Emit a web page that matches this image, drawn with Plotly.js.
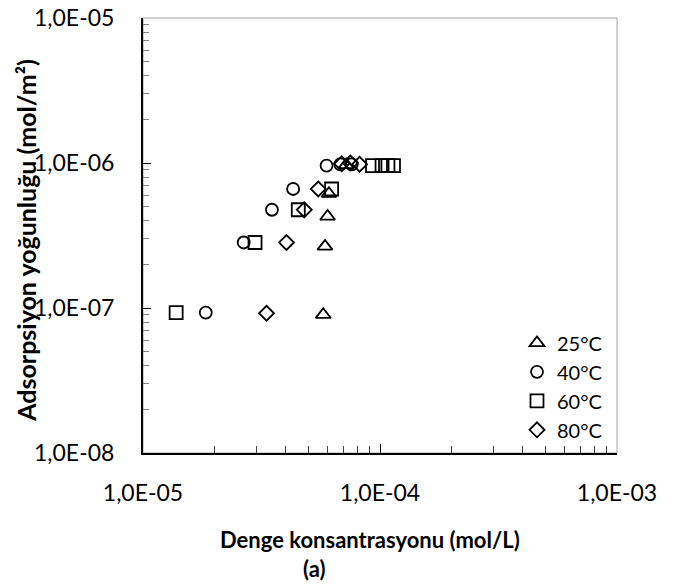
<!DOCTYPE html>
<html>
<head>
<meta charset="utf-8">
<script src="https://cdn.plot.ly/plotly-3.0.1.min.js"></script>
<style>html,body{margin:0;padding:0;background:#fff;}#chart{width:675px;height:586px;}</style>
</head>
<body>
<div id="chart"></div>
<script>
// Data
const seriesNames = ['25°C', '40°C', '60°C', '80°C'];
const x25 = [5.76e-5, 5.86e-5, 6.01e-5, 6.09e-5, 7.2e-5];
const y25 = [9.0e-8, 2.66e-7, 4.28e-7, 6.14e-7, 9.7e-7];
const x40 = [1.84e-5, 2.66e-5, 3.50e-5, 4.30e-5, 5.95e-5, 6.8e-5, 7.6e-5];
const y40 = [9.3e-8, 2.83e-7, 4.76e-7, 6.62e-7, 9.6e-7, 9.8e-7, 9.8e-7];
const x60 = [1.38e-5, 2.97e-5, 4.52e-5, 6.25e-5, 9.3e-5, 1.02e-4, 1.08e-4, 1.14e-4];
const y60 = [9.3e-8, 2.83e-7, 4.76e-7, 6.62e-7, 9.6e-7, 9.6e-7, 9.6e-7, 9.6e-7];
const x80 = [3.32e-5, 4.03e-5, 4.79e-5, 5.49e-5, 6.9e-5, 7.5e-5, 8.2e-5];
const y80 = [9.2e-8, 2.83e-7, 4.76e-7, 6.62e-7, 9.9e-7, 1.0e-6, 9.8e-7];

const xTickVals = [1e-5, 1e-4, 1e-3];
const xTickText = ['1,0E-05', '1,0E-04', '1,0E-03'];
const yTickVals = [1e-8, 1e-7, 1e-6, 1e-5];
const yTickText = ['1,0E-08', '1,0E-07', '1,0E-06', '1,0E-05'];

const xTitle = 'Denge konsantrasyonu (mol/L)';
const yTitle = 'Adsorpsiyon yoğunluğu (mol/m²)';
const subLabel = '(a)';

function minorVals(decades) {
  const v = [];
  for (const d of decades) for (let k = 2; k <= 9; k++) v.push(k * d);
  return v;
}

const FONT = 'Lato, "Open Sans", sans-serif';
const symbols = ['triangle-up-open', 'circle-open', 'square-open', 'diamond-open'];
const sizes = [13, 12, 13, 11.5];
const xs = [x25, x40, x60, x80];
const ys = [y25, y40, y60, y80];

const traces = seriesNames.map((n, i) => ({
  x: xs[i], y: ys[i], name: n, type: 'scatter', mode: 'markers',
  marker: {symbol: symbols[i], size: sizes[i], color: '#000', line: {color: '#000', width: 1.8}}
}));

const layout = {
  width: 675, height: 586,
  margin: {l: 143, r: 58, t: 18, b: 133},
  paper_bgcolor: '#fff', plot_bgcolor: 'rgba(0,0,0,0)',
  font: {family: FONT, color: '#000', size: 20},
  showlegend: true,
  legend: {x: 0.789, xanchor: 'left', y: 0.298, yanchor: 'top', bgcolor: 'rgba(0,0,0,0)',
           font: {family: FONT, size: 20, color: '#000'}, itemwidth: 30, traceorder: 'normal'},
  xaxis: {type: 'log', range: [-5, -3], tickmode: 'array', tickvals: xTickVals, ticktext: xTickText,
          ticks: 'inside', ticklen: 9, tickcolor: '#000', tickwidth: 1,
          showline: true, linecolor: '#000', linewidth: 2, showgrid: false, zeroline: false,
          tickfont: {family: FONT, size: 23}, ticklabelstandoff: 18,
          minor: {tickmode: 'array', tickvals: minorVals([1e-5, 1e-4]), ticks: 'inside', ticklen: 7, tickcolor: '#404040', tickwidth: 1, showgrid: false}},
  yaxis: {type: 'log', range: [-8, -5], tickmode: 'array', tickvals: yTickVals, ticktext: yTickText,
          ticks: 'inside', ticklen: 8, tickcolor: '#000', tickwidth: 1,
          showline: true, linecolor: '#000', linewidth: 2, showgrid: false, zeroline: false,
          tickfont: {family: FONT, size: 23}, ticklabelstandoff: 22,
          minor: {tickmode: 'array', tickvals: minorVals([1e-8, 1e-7, 1e-6]), ticks: 'inside', ticklen: 6, tickcolor: '#808080', tickwidth: 1, showgrid: false}},
  shapes: [{type: 'rect', xref: 'paper', yref: 'paper', x0: 0, x1: 1, y0: 0, y1: 1,
            line: {color: '#a6a6a6', width: 1}, layer: 'below'}],
  annotations: [
    {text: '<b>' + xTitle + '</b>', xref: 'paper', yref: 'paper', x: 0.479, y: -0.199, showarrow: false,
     xanchor: 'center', yanchor: 'middle', font: {family: FONT, size: 22}},
    {text: '<b>' + subLabel + '</b>', xref: 'paper', yref: 'paper', x: 0.3606, y: -0.302, showarrow: false,
     xanchor: 'center', yanchor: 'bottom', font: {family: FONT, size: 22}},
    {text: '<b>' + yTitle + '</b>', xref: 'paper', yref: 'paper', x: -0.2457, y: 0.489, showarrow: false,
     textangle: -90, xanchor: 'center', yanchor: 'middle', font: {family: FONT, size: 25}}
  ]
};

Plotly.newPlot('chart', traces, layout, {displayModeBar: false, staticPlot: true});
</script>
</body>
</html>
